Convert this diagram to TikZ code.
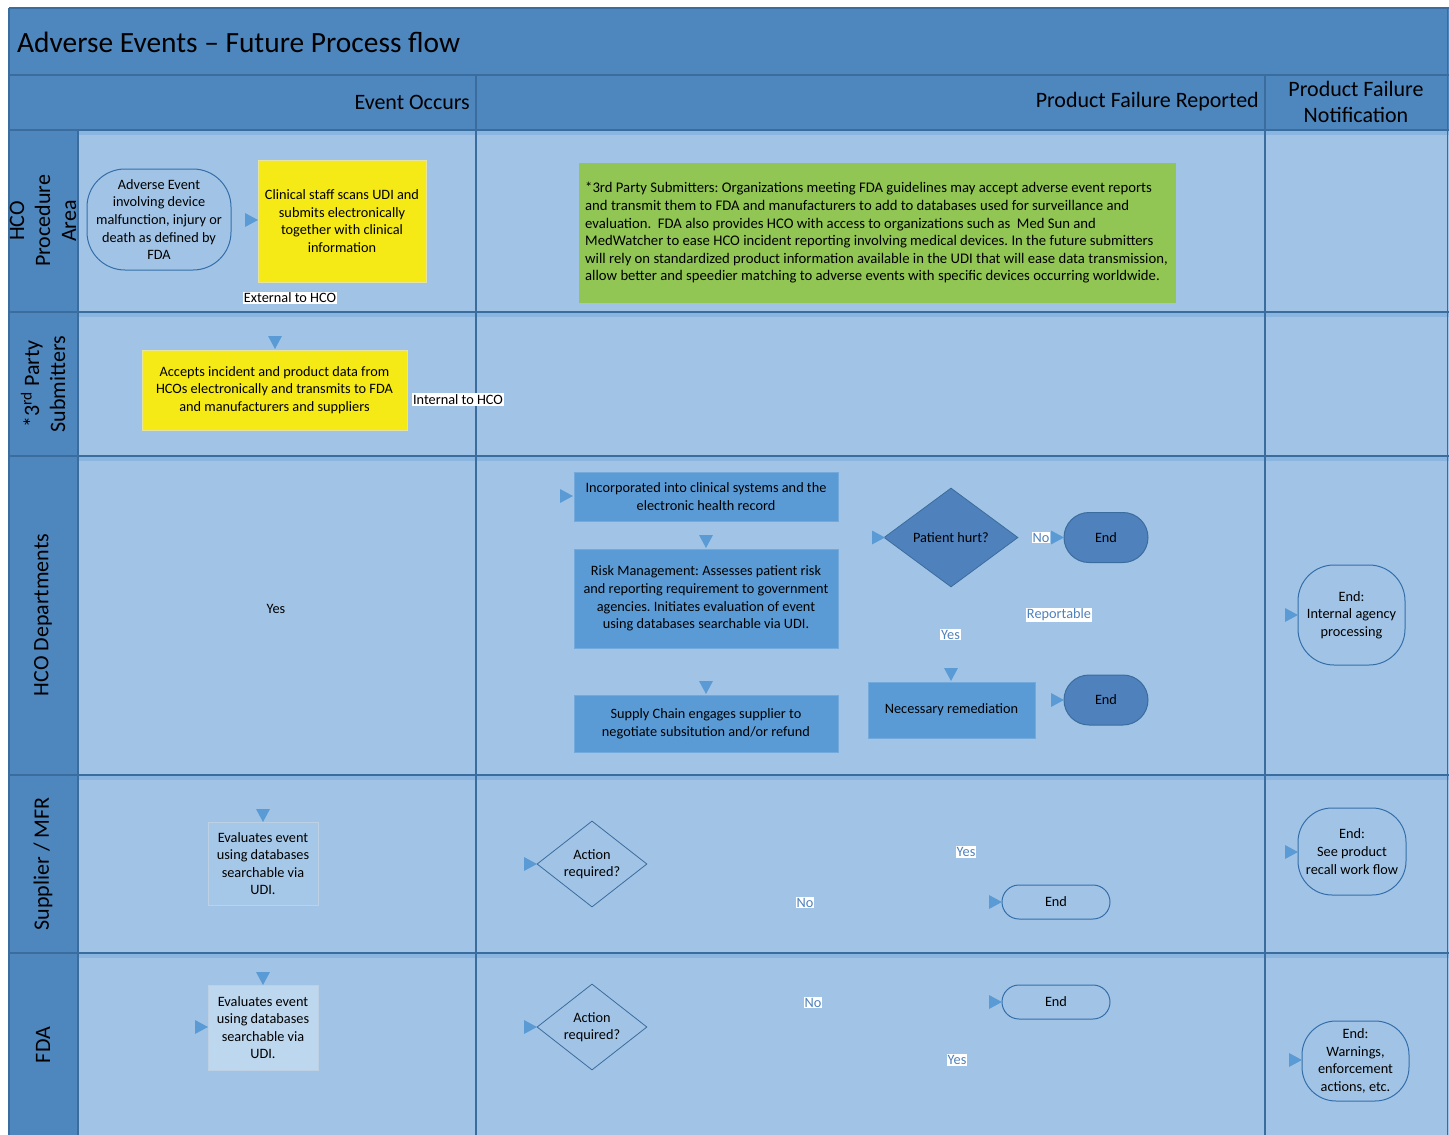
\documentclass[tikz,border=0pt]{standalone}
\usepackage{fontspec}
\setmainfont{Carlito}
\usetikzlibrary{shapes.geometric}
\definecolor{hdr}{RGB}{78,134,190}
\definecolor{cellc}{RGB}{161,196,230}
\definecolor{stripe}{RGB}{138,181,224}
\definecolor{linec}{RGB}{58,108,158}
\definecolor{midbox}{RGB}{91,155,213}
\definecolor{darkbox}{RGB}{79,129,189}
\definecolor{yel}{RGB}{245,233,22}
\definecolor{grn}{RGB}{146,198,84}
\definecolor{lblblue}{RGB}{79,129,189}
\definecolor{arrc}{RGB}{91,155,213}
\definecolor{evalA}{RGB}{166,200,232}
\definecolor{evalB}{RGB}{189,215,238}
\definecolor{evalborder}{RGB}{190,208,228}
\definecolor{termborder}{RGB}{52,110,170}
\newcommand{\arrR}[2]{\fill[arrc] (#1-13,#2-7) -- (#1,#2) -- (#1-13,#2+7) -- cycle;}
\newcommand{\arrD}[2]{\fill[arrc] (#1-7,#2-13) -- (#1,#2) -- (#1+7,#2-13) -- cycle;}
\begin{document}
\frenchspacing
\begin{tikzpicture}[x=1pt,y=-1pt,
  txt/.style={font=\fontsize{14.3}{17.6}\selectfont, align=center, inner sep=0pt},
  lane/.style={font=\fontsize{22}{26}\selectfont, align=center, rotate=90, inner sep=0pt},
  colhead/.style={font=\fontsize{22}{26}\selectfont, align=center, inner sep=0pt},
  yelbox/.style={txt, fill=yel, draw=yel!80!black!40, line width=0.4pt},
  midrect/.style={txt, fill=midbox, draw=midbox!85!white, line width=0.6pt},
  term/.style={txt, draw=termborder, line width=1pt, fill=cellc},
  darkterm/.style={txt, draw=linec, line width=1pt, fill=darkbox, rounded corners=25pt, minimum width=84pt, minimum height=50pt},
  decision/.style={txt, diamond, draw=linec, line width=0.8pt},
  wlabel/.style={font=\fontsize{14.3}{16}\selectfont, fill=white, inner sep=1pt, text=lblblue},
  blabel/.style={font=\fontsize{14.3}{16}\selectfont, fill=white, inner sep=1pt, text=black},
  evalbox/.style={txt, draw=evalborder, line width=1pt, minimum width=110pt}
]
\useasboundingbox (0,0) rectangle (1449,1135);
\fill[white] (0,0) rectangle (1449,1135);
% bands
\fill[hdr] (9,8) rectangle (1449,130);
\fill[hdr] (9,130) rectangle (78,1135);
\fill[cellc] (78,130) rectangle (1449,1135);
% stripes at top of cells
\foreach \yy in {130,312,456,775,953} {
  \fill[stripe] (78,\yy+1) rectangle (1449,\yy+5);
}
% grid lines
\draw[linec, line width=1.6pt] (9,8) -- (1449,8);
\draw[linec, line width=1.2pt] (9,75) -- (1449,75);
\draw[linec, line width=1.6pt] (9,130) -- (1449,130);
\foreach \yy in {312,456,775,953} {
  \draw[linec, line width=1.6pt] (9,\yy) -- (1449,\yy);
}
\draw[linec, line width=1.6pt] (9,8) -- (9,1135);
\draw[linec, line width=1.6pt] (78,130) -- (78,1135);
\draw[linec, line width=1.6pt] (476,75) -- (476,1135);
\draw[linec, line width=1.6pt] (1265,75) -- (1265,1135);
\draw[linec, line width=1.6pt] (1447.5,8) -- (1447.5,1135);

% title and column headers
\node[anchor=west, font=\fontsize{29.4}{32}\selectfont, inner sep=0pt] (title) at (17,42) {Adverse Events -- Future Process flow};
\node[colhead, anchor=east] (hEvent) at (470,102) {Event Occurs};
\node[colhead, anchor=east] (hReported) at (1259,102) {Product Failure Reported};
\node[colhead] (hNotif) at (1356,102) {Product Failure\\Notification};

% lane labels
\node[lane] (lHCOproc) at (43,221) {HCO\\Procedure\\Area};
\node[lane] (l3rd) at (43,384) {*3\textsuperscript{rd} Party\\Submitters};
\node[lane] (lHCOdep) at (43,615) {HCO Departments};
\node[lane] (lSupp) at (43,864) {Supplier / MFR};
\node[lane] (lFDA) at (43,1045) {FDA};

% HCO Procedure Area
\node[term, rounded corners=38pt, minimum width=144pt, minimum height=101pt] (adverse) at (159,219.5)
  {Adverse Event\\involving device\\malfunction, injury or\\death as defined by\\FDA};
\node[yelbox, minimum width=168pt, minimum height=122pt] (scan) at (342,221)
  {Clinical staff scans UDI and\\submits electronically\\together with clinical\\information};
\node[blabel] (ext) at (290,298) {External to HCO};
\node[fill=grn, minimum width=597pt, minimum height=140pt, inner sep=0pt] (note) at (877.5,233) {};
\node[anchor=west, align=left, inner sep=0pt, font=\fontsize{14.7}{17.6}\selectfont] (noteText) at (585,233)
  {*3rd Party Submitters: Organizations meeting FDA guidelines may accept adverse event reports\\
   and transmit them to FDA and manufacturers to add to databases used for surveillance and\\
   evaluation.\ \ FDA also provides HCO with access to organizations such as\ \ Med Sun and\\
   MedWatcher to ease HCO incident reporting involving medical devices. In the future submitters\\
   will rely on standardized product information available in the UDI that will ease data transmission,\\
   allow better and speedier matching to adverse events with specific devices occurring worldwide.};

% 3rd party
\node[yelbox, minimum width=265pt, minimum height=80pt] (accept) at (274.5,390)
  {Accepts incident and product data from\\HCOs electronically and transmits to FDA\\and manufacturers and suppliers};
\node[blabel] (int) at (458,399.5) {Internal to HCO};

% HCO departments
\node[txt] (yesA) at (276,609) {Yes};
\node[midrect, minimum width=264pt, minimum height=49pt] (incorp) at (706,496.5)
  {Incorporated into clinical systems and the\\electronic health record};
\node[midrect, minimum width=264pt, minimum height=99pt] (risk) at (706,598.5)
  {Risk Management: Assesses patient risk\\and reporting requirement to government\\agencies. Initiates evaluation of event\\using databases searchable via UDI.};
\node[midrect, minimum width=264pt, minimum height=57pt] (supply) at (706,723.5)
  {Supply Chain engages supplier to\\negotiate subsitution and/or refund};
\node[decision, fill=darkbox, minimum width=134pt, minimum height=99pt] (hurt) at (951,537.5) {Patient hurt?};
\node[wlabel] (noA) at (1041,537.5) {No};
\node[darkterm] (end1) at (1106,537.5) {End};
\node[wlabel] (reportable) at (1059,615) {Reportable};
\node[wlabel] (yesB) at (950.5,634.5) {Yes};
\node[midrect, minimum width=167pt, minimum height=56pt] (remed) at (951.5,710) {Necessary remediation};
\node[darkterm] (end2) at (1106,700) {End};
\node[term, rounded corners=36pt, minimum width=107pt, minimum height=100pt] (internal) at (1351.5,615)
  {End:\\Internal agency\\processing};

% Supplier / MFR
\node[evalbox, fill=evalA, minimum height=83pt] (evalS) at (263,863.5)
  {Evaluates event\\using databases\\searchable via\\UDI.};
\node[decision, fill=cellc, minimum width=110pt, minimum height=83pt] (actS) at (592,864) {Action\\required?};
\node[wlabel] (yesS) at (966,852) {Yes};
\node[wlabel] (noS) at (805,902.5) {No};
\node[term, rounded corners=17pt, minimum width=108pt, minimum height=34pt] (endS) at (1056,902) {End};
\node[term, rounded corners=34pt, minimum width=108pt, minimum height=87pt] (recall) at (1352,851.5)
  {End:\\See product\\recall work flow};

% FDA
\node[evalbox, fill=evalB, minimum height=85pt] (evalF) at (263,1027.5)
  {Evaluates event\\using databases\\searchable via\\UDI.};
\node[decision, fill=cellc, minimum width=110pt, minimum height=83pt] (actF) at (592,1027) {Action\\required?};
\node[wlabel] (noF) at (813,1002.5) {No};
\node[term, rounded corners=17pt, minimum width=108pt, minimum height=34pt] (endF) at (1056,1002) {End};
\node[wlabel] (yesF) at (957,1060) {Yes};
\node[term, rounded corners=34pt, minimum width=107pt, minimum height=80pt] (warn) at (1355.5,1061)
  {End:\\Warnings,\\enforcement\\actions, etc.};

% arrowheads (connector tips)
\arrR{258}{220}
\arrD{275}{349}
\arrR{573}{496}
\arrD{706}{548}
\arrD{706}{694}
\arrR{885}{537.5}
\arrR{1064}{537.5}
\arrD{951}{681}
\arrR{1064}{700}
\arrR{1298}{615}
\arrD{263}{822}
\arrR{537}{864}
\arrR{1002}{902}
\arrR{1298}{852}
\arrD{263}{985}
\arrR{208}{1027}
\arrR{537}{1027}
\arrR{1002}{1002}
\arrR{1302}{1060}
\end{tikzpicture}
\end{document}
